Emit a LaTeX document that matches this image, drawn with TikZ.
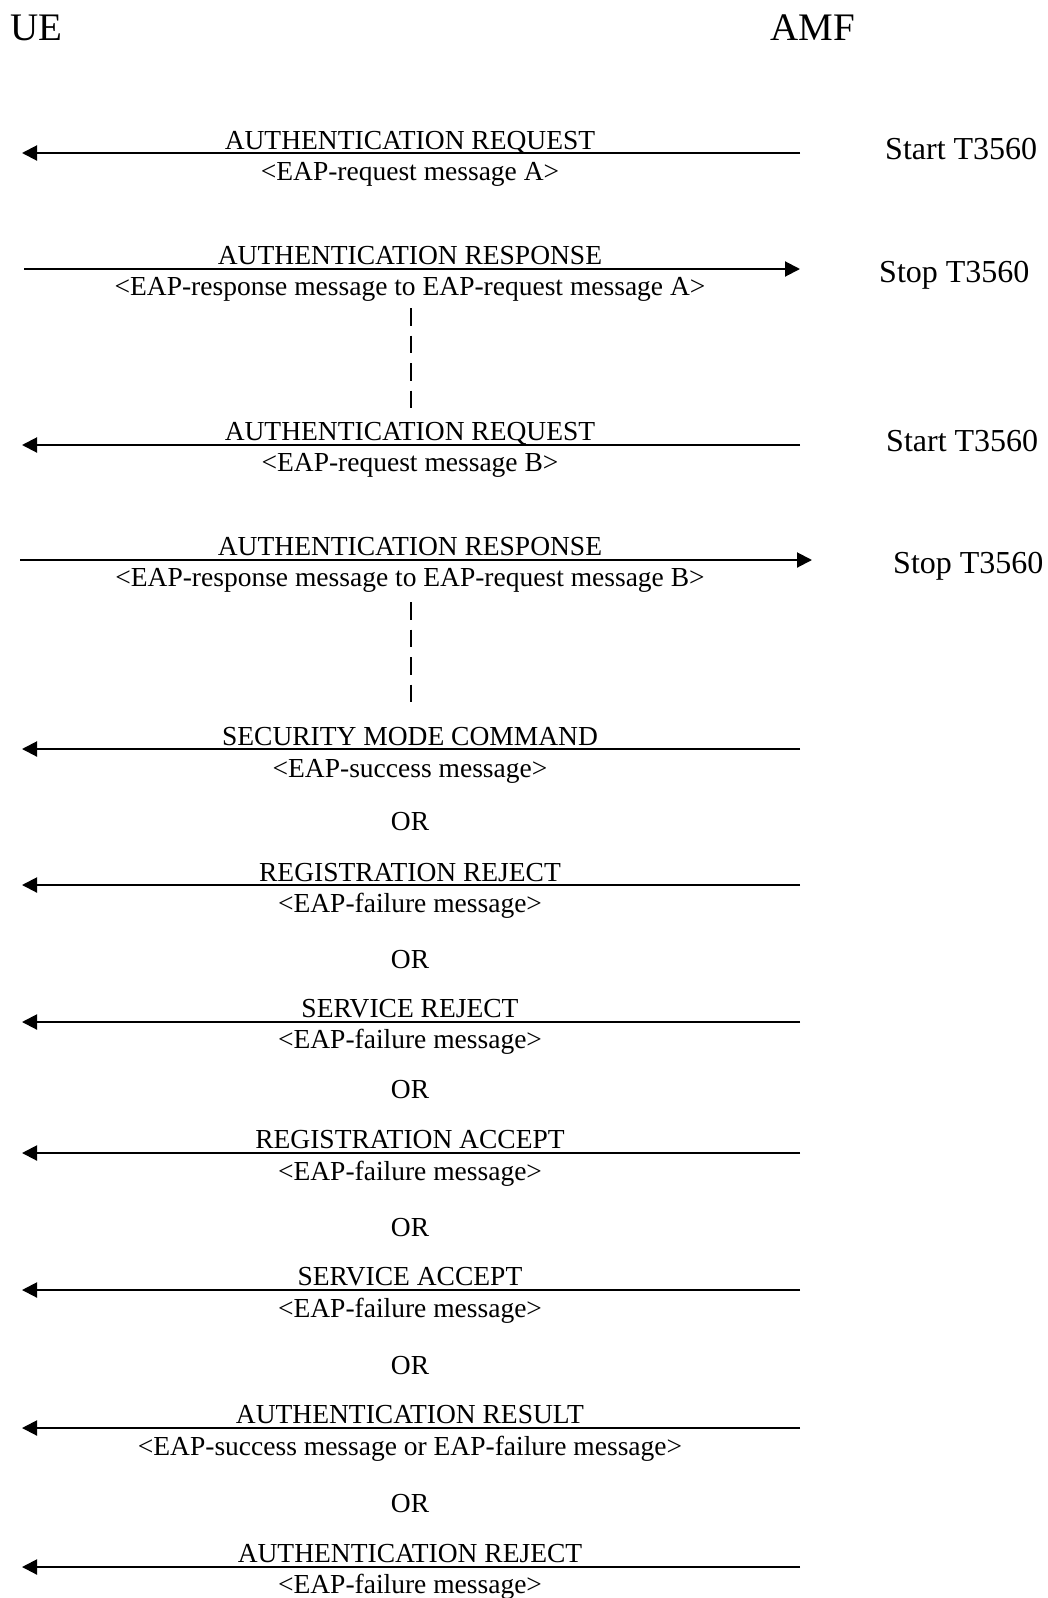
\documentclass[tikz,border=0pt]{standalone}
\usepackage{fontspec}
\setmainfont{Liberation Serif}
\usetikzlibrary{arrows.meta}
\begin{document}
\begin{tikzpicture}[x=1pt,y=-1pt,
  msg/.style={line width=2pt,-{Triangle[length=15pt,width=15pt]}},
  lbl/.style={anchor=base,inner sep=0pt,font=\fontsize{27.5}{33}\selectfont},
  timer/.style={anchor=base west,inner sep=0pt,font=\fontsize{32}{38}\selectfont},
  ent/.style={anchor=base west,inner sep=0pt,font=\fontsize{39}{46}\selectfont},
  cont/.style={line width=2pt,dash pattern=on 17.5pt off 10pt}]
\useasboundingbox (0,0) rectangle (1047,1598);
% entities
\node[ent] (ue) at (10,40) {UE};
\node[ent] (amf) at (770,40) {AMF};
% 1 request A
\coordinate (r1a) at (800,153);
\coordinate (r1b) at (22,153);
\draw[msg] (r1a) -- (r1b);
\node[lbl] (l1) at (410,149) {AUTHENTICATION REQUEST};
\node[lbl] (s1) at (410,180) {<EAP-request message A>};
\node[timer] (t1) at (885,159) {Start T3560};
% 2 response A
\coordinate (r2a) at (24,269);
\coordinate (r2b) at (800,269);
\draw[msg] (r2a) -- (r2b);
\node[lbl] (l2) at (410,264) {AUTHENTICATION RESPONSE};
\node[lbl] (s2) at (410,295) {<EAP-response message to EAP-request message A>};
\node[timer] (t2) at (879,282) {Stop T3560};
\coordinate (d1a) at (411,308);
\coordinate (d1b) at (411,408);
\draw[cont] (d1a) -- (d1b);
% 3 request B
\coordinate (r3a) at (800,445);
\coordinate (r3b) at (22,445);
\draw[msg] (r3a) -- (r3b);
\node[lbl] (l3) at (410,440) {AUTHENTICATION REQUEST};
\node[lbl] (s3) at (410,471) {<EAP-request message B>};
\node[timer] (t3) at (886,451) {Start T3560};
% 4 response B
\coordinate (r4a) at (20,560);
\coordinate (r4b) at (812,560);
\draw[msg] (r4a) -- (r4b);
\node[lbl] (l4) at (410,555) {AUTHENTICATION RESPONSE};
\node[lbl] (s4) at (410,586) {<EAP-response message to EAP-request message B>};
\node[timer] (t4) at (893,573) {Stop T3560};
\coordinate (d2a) at (411,602);
\coordinate (d2b) at (411,702);
\draw[cont] (d2a) -- (d2b);
% 5 security mode command
\coordinate (r5a) at (800,749);
\coordinate (r5b) at (22,749);
\draw[msg] (r5a) -- (r5b);
\node[lbl] (l5) at (410,745) {SECURITY MODE COMMAND};
\node[lbl] (s5) at (410,777) {<EAP-success message>};
\node[lbl] (o1) at (410,830) {OR};
% 6 registration reject
\coordinate (r6a) at (800,885);
\coordinate (r6b) at (22,885);
\draw[msg] (r6a) -- (r6b);
\node[lbl] (l6) at (410,881) {REGISTRATION REJECT};
\node[lbl] (s6) at (410,912) {<EAP-failure message>};
\node[lbl] (o2) at (410,968) {OR};
% 7 service reject
\coordinate (r7a) at (800,1022);
\coordinate (r7b) at (22,1022);
\draw[msg] (r7a) -- (r7b);
\node[lbl] (l7) at (410,1017) {SERVICE REJECT};
\node[lbl] (s7) at (410,1048) {<EAP-failure message>};
\node[lbl] (o3) at (410,1098) {OR};
% 8 registration accept
\coordinate (r8a) at (800,1153);
\coordinate (r8b) at (22,1153);
\draw[msg] (r8a) -- (r8b);
\node[lbl] (l8) at (410,1148) {REGISTRATION ACCEPT};
\node[lbl] (s8) at (410,1180) {<EAP-failure message>};
\node[lbl] (o4) at (410,1236) {OR};
% 9 service accept
\coordinate (r9a) at (800,1290);
\coordinate (r9b) at (22,1290);
\draw[msg] (r9a) -- (r9b);
\node[lbl] (l9) at (410,1285) {SERVICE ACCEPT};
\node[lbl] (s9) at (410,1317) {<EAP-failure message>};
\node[lbl] (o5) at (410,1374) {OR};
% 10 authentication result
\coordinate (r10a) at (800,1428);
\coordinate (r10b) at (22,1428);
\draw[msg] (r10a) -- (r10b);
\node[lbl] (l10) at (410,1423) {AUTHENTICATION RESULT};
\node[lbl] (s10) at (410,1455) {<EAP-success message or EAP-failure message>};
\node[lbl] (o6) at (410,1512) {OR};
% 11 authentication reject
\coordinate (r11a) at (800,1567);
\coordinate (r11b) at (22,1567);
\draw[msg] (r11a) -- (r11b);
\node[lbl] (l11) at (410,1562) {AUTHENTICATION REJECT};
\node[lbl] (s11) at (410,1593) {<EAP-failure message>};
\end{tikzpicture}
\end{document}
